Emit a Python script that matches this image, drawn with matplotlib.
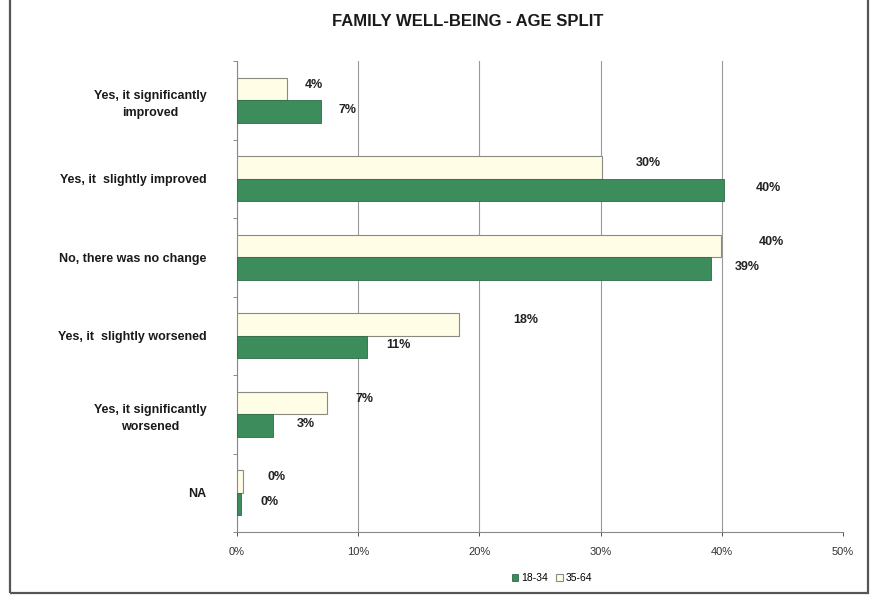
import numpy as np
import matplotlib
matplotlib.use("Agg")
import matplotlib.pyplot as plt
from matplotlib.patches import Rectangle
from matplotlib.ticker import FuncFormatter, FixedLocator

# ─── data ─────────────────────────────────────────────────────────
categories = [
    "Yes, it significantly\nimproved",
    "Yes, it  slightly improved",
    "No, there was no change",
    "Yes, it  slightly worsened",
    "Yes, it significantly\nworsened",
    "NA",
]
age_18_34 = [6.9, 40.2, 39.1, 10.7, 3.0, 0.3]
age_35_64 = [4.1, 30.1, 39.9, 18.3, 7.4, 0.5]
labels_18_34 = ["7%", "40%", "39%", "11%", "3%", "0%"]
labels_35_64 = ["4%", "30%", "40%", "18%", "7%", "0%"]
series_names = ["18-34", "35-64"]

# label offsets (pixels) to the right of bar ends, as placed in the original
dx_18_34 = [18, 32, 24, 20, 23, 20]
dx_35_64 = [18, 34, 38, 54, 29, 24]

GREEN = "#3d8c5c"
IVORY = "#fffde6"
FONT = ["Liberation Sans Narrow", "Liberation Sans", "DejaVu Sans"]
plt.rcParams["font.family"] = FONT

DPI = 100
fig = plt.figure(figsize=(8.74, 5.97), dpi=DPI)
ax = fig.add_axes([237 / 874, 1 - 532 / 597, (843 - 237) / 874, (532 - 61) / 597])

y = np.arange(len(categories))
h = 0.287
ax.barh(y - h / 2, age_35_64, height=h, color=IVORY, edgecolor="#8a8a80",
        linewidth=0.8, label=series_names[1], zorder=3)
ax.barh(y + h / 2, age_18_34, height=h, color=GREEN, edgecolor="#2f6b47",
        linewidth=0.6, label=series_names[0], zorder=3)

px = 72.0 / DPI
for i in range(len(categories)):
    ax.annotate(labels_35_64[i], (age_35_64[i], y[i] - h / 2),
                xytext=(dx_35_64[i] * px, 4 * px), textcoords="offset points",
                ha="left", va="center", fontsize=9, fontweight="bold",
                color="#222222")
    ax.annotate(labels_18_34[i], (age_18_34[i], y[i] + h / 2),
                xytext=(dx_18_34[i] * px, 2 * px), textcoords="offset points",
                ha="left", va="center", fontsize=9, fontweight="bold",
                color="#222222")

ax.set_xlim(0, 50)
ax.set_ylim(len(categories) - 0.5, -0.5)
ax.set_xticks(np.arange(0, 51, 10))
ax.xaxis.set_major_formatter(FuncFormatter(lambda v, p: f"{v:.0f}%"))
ax.tick_params(axis="x", labelsize=8, colors="#333333", length=3, pad=8,
               width=0.6)

ax.set_yticks(y)
ax.set_yticklabels(categories, fontsize=9, fontweight="bold", color="#1a1a1a",
                   multialignment="center", linespacing=1.6)
ax.tick_params(axis="y", which="major", length=0, pad=22)
ax.yaxis.set_minor_locator(FixedLocator(np.arange(-0.5, len(categories), 1.0)))
ax.tick_params(axis="y", which="minor", length=3, width=0.6, color="#777777")

ax.grid(axis="x", color="#999999", linewidth=0.8, zorder=0)
ax.xaxis.get_gridlines()[-1].set_visible(False)
ax.set_axisbelow(True)
for s in ["top", "right"]:
    ax.spines[s].set_visible(False)
for s in ["left", "bottom"]:
    ax.spines[s].set_color("#888888")
    ax.spines[s].set_linewidth(0.8)

fig.text(468 / 874, 1 - 22 / 597, "FAMILY WELL-BEING - AGE SPLIT",
         fontsize=12, fontweight="bold", color="#1a1a1a",
         ha="center", va="center")

handles, labs = ax.get_legend_handles_labels()
leg = fig.legend(handles[::-1], labs[::-1], loc="center",
                 bbox_to_anchor=(552 / 874, 1 - 578 / 597), ncol=2, frameon=False,
                 fontsize=7.5, handlelength=0.6, handleheight=0.6,
                 handletextpad=0.3, columnspacing=0.8)

# outer frame
fig.patches.append(Rectangle((10 / 874, 4 / 597), 858 / 874, 1.0,
                             transform=fig.transFigure, fill=False,
                             edgecolor="#555555", linewidth=1.6))

fig.savefig("out.png", dpi=DPI)
